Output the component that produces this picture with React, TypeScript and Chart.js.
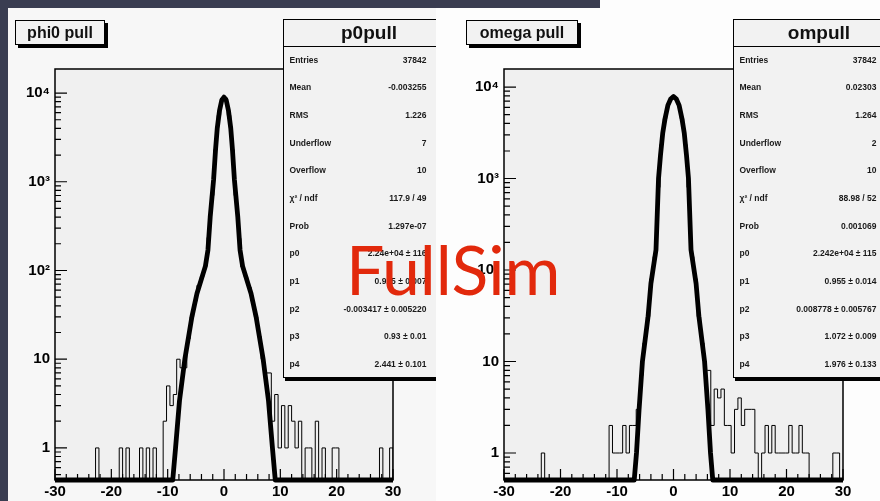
import React, { useEffect, useRef } from 'react';
import { Chart, registerables } from 'chart.js';

Chart.register(...registerables);

// ---------- data ----------
const X_MIN = -30;
const X_MAX = 30;
const BIN_WIDTH = 0.6;
const X_TICKS = [-30, -20, -10, 0, 10, 20, 30];
const Y_TICK_VALUES = [1, 10, 100, 1000, 10000];
const Y_TICK_LABELS = ['1', '10', '10²', '10³', '10⁴'];

// phi0 pull histogram, 100 bins of 0.6 from -30 to 30
const phiCounts = [
  0, 0, 0, 0, 0, 0, 0, 0, 0, 0,
  0, 0, 1, 0, 0, 0, 0, 0, 0, 1,
  0, 1, 0, 0, 0, 1, 0, 1, 0, 1,
  0, 0, 2, 5, 3, 4, 10, 8, 8, 17,
  30, 45, 68, 85, 112, 235, 700, 2300, 5600, 8700,
  8800, 5600, 2300, 700, 230, 110, 85, 65, 45, 30,
  18, 10, 7, 7, 2, 4, 1, 3, 1, 3,
  2, 1, 2, 0, 1, 1, 0, 2, 0, 1,
  0, 0, 1, 1, 0, 0, 0, 0, 0, 0,
  0, 0, 0, 0, 0, 0, 1, 0, 0, 1,
];

// omega pull histogram
const omegaCounts = [
  0, 0, 0, 0, 0, 0, 0, 0, 0, 0,
  0, 1, 0, 0, 0, 0, 0, 0, 0, 0,
  0, 0, 0, 0, 0, 0, 0, 0, 0, 0,
  0, 2, 1, 1, 1, 2, 1, 2, 2, 3,
  7, 16, 31, 80, 140, 800, 2350, 4500, 6500, 7700,
  7700, 6500, 4500, 2350, 800, 140, 80, 31, 16, 8,
  8, 2, 5, 4, 5, 2, 2, 1, 3, 4,
  2, 3, 3, 3, 1, 0, 1, 2, 1, 2,
  1, 1, 1, 1, 2, 1, 1, 2, 1, 1,
  0, 0, 0, 0, 0, 0, 0, 1, 1, 0,
];

// fitted curves (x, value)
const phiFitX = [-30, -9.1, -8.6, -7.9, -6.95, -5.7, -4.8, -3.3, -2.85, -2.45, -1.85, -1.5, -1.2, -0.8, -0.4, 0, 0.4, 0.8, 1.2, 1.5, 1.85, 2.45, 2.85, 3.3, 4.8, 5.7, 6.95, 7.9, 8.6, 9.1, 30];
const phiFitY = [0.435, 0.435, 1, 3.4, 10, 30, 55, 112, 170, 400, 1050, 2300, 4000, 6300, 8300, 9000, 8300, 6300, 4000, 2300, 1050, 400, 170, 112, 55, 30, 10, 3.4, 1, 0.435, 0.435];

const omegaFitX = [-30, -6.95, -6.55, -6.1, -5.5, -4.5, -4.0, -3.1, -2.65, -2.3, -1.9, -1.5, -1.0, -0.5, 0, 0.5, 1.0, 1.5, 1.9, 2.3, 2.65, 3.1, 4.0, 4.5, 5.5, 6.1, 6.55, 6.95, 30];
const omegaFitY = [0.507, 0.507, 1, 2.95, 10, 31, 71, 166, 1000, 1800, 3160, 4500, 6300, 7400, 7900, 7400, 6300, 4500, 3160, 1800, 1000, 166, 71, 31, 10, 2.95, 1, 0.507, 0.507];

const phiStats: [string, string][] = [
  ['Entries', '37842'],
  ['Mean', '-0.003255'],
  ['RMS', '1.226'],
  ['Underflow', '7'],
  ['Overflow', '10'],
  ['χ² / ndf', '117.9 / 49'],
  ['Prob', '1.297e-07'],
  ['p0', '2.24e+04 ± 116'],
  ['p1', '0.925 ± 0.007'],
  ['p2', '-0.003417 ± 0.005220'],
  ['p3', '0.93 ± 0.01'],
  ['p4', '2.441 ± 0.101'],
];

const omegaStats: [string, string][] = [
  ['Entries', '37842'],
  ['Mean', '0.02303'],
  ['RMS', '1.264'],
  ['Underflow', '2'],
  ['Overflow', '10'],
  ['χ² / ndf', '88.98 / 52'],
  ['Prob', '0.001069'],
  ['p0', '2.242e+04 ± 115'],
  ['p1', '0.955 ± 0.014'],
  ['p2', '0.008778 ± 0.005767'],
  ['p3', '1.072 ± 0.009'],
  ['p4', '1.976 ± 0.133'],
];

// ---------- rendering ----------
const FONT = "'Liberation Sans', Arial, Helvetica, sans-serif";

const rootFramePlugin = {
  id: 'rootFrame',
  beforeDatasetsDraw(chart: any) {
    const { ctx, chartArea: a } = chart;
    ctx.save();
    ctx.fillStyle = '#f0f0f0';
    ctx.fillRect(a.left, a.top, a.right - a.left, a.bottom - a.top);
    ctx.restore();
  },
  afterDatasetsDraw(chart: any) {
    const { ctx, chartArea: a, scales } = chart;
    const x = scales.x;
    const y = scales.y;
    ctx.save();
    ctx.strokeStyle = '#000';
    ctx.lineWidth = 1.5;
    ctx.strokeRect(a.left, a.top, a.right - a.left, a.bottom - a.top);
    ctx.lineWidth = 1.2;
    ctx.beginPath();
    for (let v = X_MIN; v <= X_MAX + 1e-9; v += 2) {
      const px = x.getPixelForValue(v);
      const len = Math.abs(v % 10) < 1e-9 ? 11 : 6;
      ctx.moveTo(px, a.bottom);
      ctx.lineTo(px, a.bottom - len);
    }
    const lo = Math.floor(Math.log10(y.min));
    const hi = Math.ceil(Math.log10(y.max));
    for (let d = lo; d <= hi; d++) {
      for (let m = 1; m <= 9; m++) {
        const val = m * Math.pow(10, d);
        if (val < y.min || val > y.max) continue;
        const py = y.getPixelForValue(val);
        const len = m === 1 ? 12 : 6;
        ctx.moveTo(a.left, py);
        ctx.lineTo(a.left + len, py);
      }
    }
    ctx.stroke();
    ctx.restore();
  },
};

type Area = { left: number; top: number; right: number; bottom: number };

function HistPanel(props: {
  counts: number[];
  fitX: number[];
  fitY: number[];
  yMin: number;
  yMax: number;
  width: number;
  height: number;
  area: Area;
}) {
  const ref = useRef<HTMLCanvasElement>(null);
  useEffect(() => {
    const { counts, fitX, fitY, yMin, yMax, width, height, area } = props;
    const edge = (i: number) => X_MIN + i * BIN_WIDTH;
    const histPts: { x: number; y: number }[] = [{ x: X_MIN, y: yMin }];
    counts.forEach((c, i) => histPts.push({ x: edge(i), y: c > 0 ? c : yMin }));
    const last = counts[counts.length - 1];
    histPts.push({ x: X_MAX, y: last > 0 ? last : yMin });
    histPts.push({ x: X_MAX, y: yMin });
    const fitPts = fitX.map((xv, i) => ({ x: xv, y: fitY[i] }));

    const chart = new Chart(ref.current!, {
      type: 'line',
      data: {
        datasets: [
          {
            label: 'fit',
            data: fitPts,
            borderColor: '#000',
            borderWidth: 4.8,
            pointRadius: 0,
            tension: 0,
            borderJoinStyle: 'round',
            borderCapStyle: 'round',
            fill: false,
            clip: { left: 0, top: 0, right: 0, bottom: 4 } as any,
          },
          {
            label: 'hist',
            data: histPts,
            borderColor: '#000',
            borderWidth: 1,
            pointRadius: 0,
            stepped: true,
            fill: false,
          },
        ],
      },
      options: {
        animation: false,
        responsive: false,
        devicePixelRatio: 1,
        events: [],
        layout: { padding: { left: 0, top: area.top, right: width - area.right, bottom: 0 } },
        plugins: { legend: { display: false }, tooltip: { enabled: false }, title: { display: false } },
        scales: {
          x: {
            type: 'linear',
            min: X_MIN,
            max: X_MAX,
            afterBuildTicks: (s: any) => {
              s.ticks = X_TICKS.map((v) => ({ value: v }));
            },
            afterFit: (s: any) => {
              s.height = height - area.bottom;
            },
            ticks: {
              color: '#000',
              padding: 3,
              maxRotation: 0,
              autoSkip: false,
              font: { family: FONT, size: 15, weight: 'bold' },
            },
            grid: { display: false, drawTicks: false },
            border: { display: false },
          },
          y: {
            type: 'logarithmic',
            min: yMin,
            max: yMax,
            afterBuildTicks: (s: any) => {
              s.ticks = Y_TICK_VALUES.map((v) => ({ value: v }));
            },
            afterFit: (s: any) => {
              s.width = area.left;
            },
            ticks: {
              color: '#000',
              padding: 5,
              autoSkip: false,
              callback: (v: any) => {
                const i = Y_TICK_VALUES.indexOf(Number(v));
                return i >= 0 ? Y_TICK_LABELS[i] : '';
              },
              font: { family: FONT, size: 15, weight: 'bold' },
            },
            grid: { display: false, drawTicks: false },
            border: { display: false },
          },
        },
      } as any,
      plugins: [rootFramePlugin],
    });
    return () => chart.destroy();
  }, []);
  return (
    <canvas
      ref={ref}
      width={props.width}
      height={props.height}
      style={{ position: 'absolute', left: 0, top: 0, width: props.width, height: props.height }}
    />
  );
}

function TitleBox(props: { text: string; left: number; width: number }) {
  return (
    <div
      style={{
        position: 'absolute',
        left: props.left,
        top: 12,
        width: props.width,
        height: 25,
        boxSizing: 'border-box',
        border: '1px solid #000',
        background: '#f2f2f2',
        boxShadow: '3px 3px 0 #000',
        font: `bold 16px ${FONT}`,
        lineHeight: '23px',
        textAlign: 'center',
        color: '#111',
      }}
    >
      {props.text}
    </div>
  );
}

function StatsBox(props: { title: string; rows: [string, string][]; left: number }) {
  const rowH = 27.65;
  return (
    <div
      style={{
        position: 'absolute',
        left: props.left,
        top: 11,
        width: 172,
        height: 359,
        boxSizing: 'border-box',
        border: '1.5px solid #000',
        background: '#f2f2f2',
        boxShadow: '2px 3px 0 #000',
        color: '#1a1a1a',
      }}
    >
      <div
        style={{
          position: 'absolute',
          left: 0,
          top: 0,
          width: 170,
          height: 26,
          borderBottom: '1.5px solid #000',
          font: `bold 19px ${FONT}`,
          lineHeight: '26px',
          textAlign: 'center',
          color: '#111',
        }}
      >
        {props.title}
      </div>
      {props.rows.map((r, i) => (
        <div
          key={i}
          style={{
            position: 'absolute',
            left: 5.5,
            top: 26 + i * rowH,
            width: 137,
            height: rowH,
            display: 'flex',
            alignItems: 'center',
            justifyContent: 'space-between',
            font: `bold 8.5px ${FONT}`,
            whiteSpace: 'nowrap',
          }}
        >
          <span>{r[0]}</span>
          <span>{r[1]}</span>
        </div>
      ))}
    </div>
  );
}

export default function App() {
  return (
    <div
      style={{
        position: 'fixed',
        left: 0,
        top: 0,
        width: 880,
        height: 501,
        overflow: 'hidden',
        background: '#3a3d51',
      }}
    >
      {/* left pad */}
      <div
        style={{
          position: 'absolute',
          left: 8,
          top: 8,
          width: 428,
          height: 493,
          overflow: 'hidden',
          background: '#f7f7f7',
        }}
      >
        <HistPanel
          counts={phiCounts}
          fitX={phiFitX}
          fitY={phiFitY}
          yMin={0.435}
          yMax={18660}
          width={428}
          height={493}
          area={{ left: 47, top: 61, right: 385, bottom: 472 }}
        />
        <TitleBox text="phi0 pull" left={7} width={90} />
        <StatsBox title="p0pull" rows={phiStats} left={275} />
      </div>
      {/* right pad */}
      <div style={{ position: 'absolute', left: 600, top: 0, width: 280, height: 8, background: '#fdfdfd' }} />
      <div
        style={{
          position: 'absolute',
          left: 436,
          top: 8,
          width: 444,
          height: 493,
          overflow: 'hidden',
          background: '#fdfdfd',
        }}
      >
        <HistPanel
          counts={omegaCounts}
          fitX={omegaFitX}
          fitY={omegaFitY}
          yMin={0.507}
          yMax={15740}
          width={444}
          height={493}
          area={{ left: 68, top: 61, right: 407, bottom: 472 }}
        />
        <TitleBox text="omega pull" left={30} width={112} />
        <StatsBox title="ompull" rows={omegaStats} left={297} />
      </div>
      <div
        style={{
          position: 'absolute',
          left: 346,
          top: 235,
          font: `400 68px Lato, 'Open Sans', sans-serif`,
          lineHeight: '68px',
          color: '#e2290c',
          whiteSpace: 'nowrap',
        }}
      >
        FullSim
      </div>
    </div>
  );
}
